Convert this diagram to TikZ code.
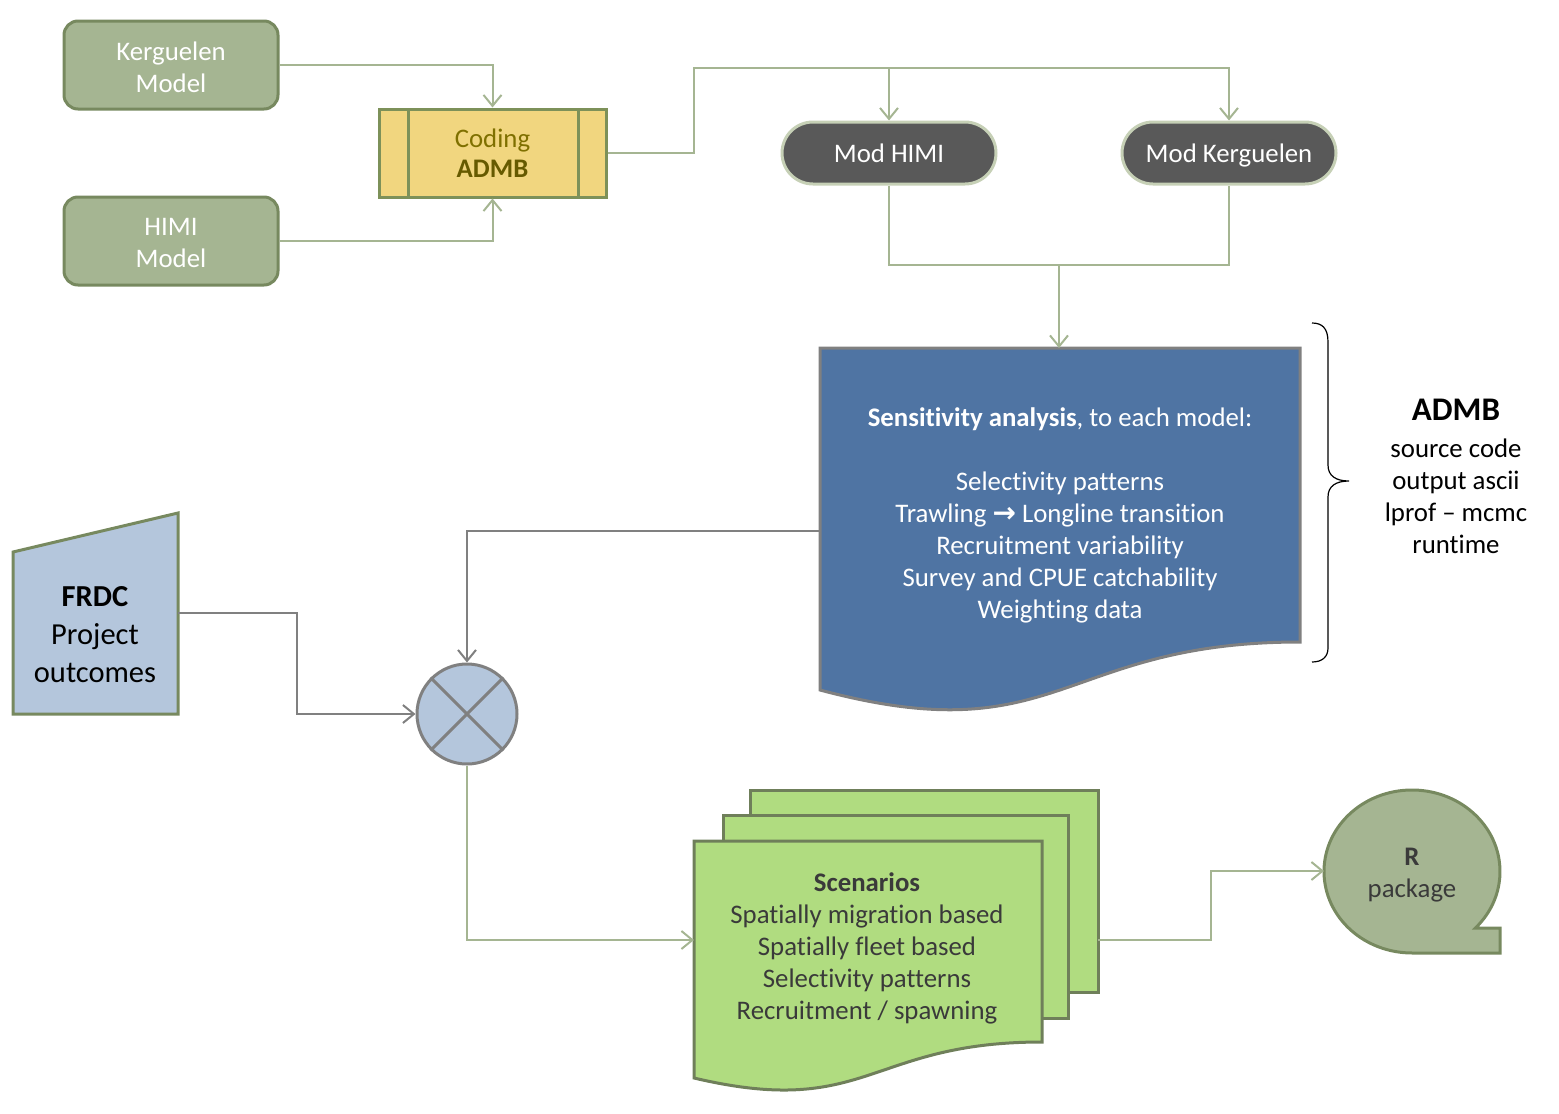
\documentclass[tikz,border=0pt]{standalone}
\usepackage{fontspec}
\setmainfont{Carlito}[Ligatures={NoCommon}]
\newfontfamily\symf{DejaVu Sans}
\usetikzlibrary{arrows.meta,calc}
\definecolor{boxgreen}{HTML}{A5B592}
\definecolor{boxgreenline}{HTML}{77895F}
\definecolor{conngreen}{HTML}{A5B592}
\definecolor{connGray}{HTML}{808080}
\definecolor{codefill}{HTML}{F1D67F}
\definecolor{codeline}{HTML}{7D9159}
\definecolor{codetext}{HTML}{7F7000}
\definecolor{codebold}{HTML}{665A00}
\definecolor{modfill}{HTML}{595959}
\definecolor{modline}{HTML}{C6D0B6}
\definecolor{sensfill}{HTML}{4F74A3}
\definecolor{sensline}{HTML}{808080}
\definecolor{lightblue}{HTML}{B4C6DC}
\definecolor{scenfill}{HTML}{B0DC80}
\definecolor{scenline}{HTML}{6F7F5A}
\definecolor{darktext}{HTML}{3A3A3A}
\tikzset{
  txt/.style={font=\fontsize{26.8}{32}\selectfont, align=center, inner sep=0pt},
  greenbox/.style={draw=boxgreenline, fill=boxgreen, line width=3pt, rounded corners=14pt,
    minimum width=214pt, minimum height=88pt, inner sep=0pt},
  modbox/.style={draw=modline, fill=modfill, line width=3pt, rounded corners=31pt,
    minimum width=214pt, minimum height=62pt, txt, text=white, text height=19pt, text depth=1pt},
  gconn/.style={draw=conngreen, line width=2pt},
  kconn/.style={draw=connGray, line width=2pt},
  tip/.style={-{Straight Barb[length=11pt,width=18pt,line width=2pt]}},
}
\begin{document}
\begin{tikzpicture}[x=1pt,y=1pt]
\useasboundingbox (0,0) rectangle (1559,-1114);

% --- top-left models
\node[greenbox] (kerg) at (171,-65) {};
\node[greenbox] (himi) at (171,-241) {};
\node[txt, text=white] (kergtxt) at (171,-67) {Kerguelen\\Model};
\node[txt, text=white] (himitxt) at (171,-243) {HIMI\\Model};

% --- coding ADMB (predefined process)
\node[draw=codeline, fill=codefill, line width=3pt, minimum width=227pt, minimum height=88pt,
      inner sep=0pt] (coding) at (492.5,-153) {};
\draw[codeline, line width=3pt] (408,-109) -- (408,-197) (578,-109) -- (578,-197);
\node[txt, font=\fontsize{26.8}{30}\selectfont, text=codetext] (codingtxt) at (492.5,-153)
  {Coding\\{\bfseries\color{codebold}ADMB}};

% --- mod boxes
\node[modbox] (modh) at (889,-153) {Mod HIMI};
\node[modbox] (modk) at (1229,-153) {Mod Kerguelen};

% --- sensitivity document
\draw[fill=sensfill, draw=sensline, line width=3pt]
  (820,-348) -- (1300,-348) -- (1300,-642)
  .. controls (1060,-642) and (1060,-754) .. (820,-690) -- cycle;
\coordinate (senstop) at (1059,-348);
\coordinate (sensL) at (820,-531);
\node[txt, text=white] (senstxt) at (1060,-515)
  {\textbf{Sensitivity analysis}, to each model:\\ \\
   Selectivity patterns\\
   Trawling {\symf\bfseries\fontsize{28}{32}\selectfont →} Longline transition\\
   Recruitment variability\\
   Survey and CPUE catchability\\
   Weighting data};

% --- brace
\draw[black, line width=1.2pt]
  (1312,-323) .. controls (1322,-323) and (1328,-328) .. (1328,-342)
  -- (1328,-465) .. controls (1328,-476) and (1336,-481) .. (1349,-481)
  .. controls (1336,-481) and (1328,-486) .. (1328,-497)
  -- (1328,-648) .. controls (1328,-657) and (1322,-662) .. (1312,-662);
\node[txt, font=\fontsize{33}{38}\selectfont\bfseries] (admbtitle) at (1456,-410) {ADMB};
\node[txt] (admblist) at (1456,-496) {source code\\output ascii\\lprof – mcmc\\runtime};

% --- FRDC manual input
\draw[fill=lightblue, draw=boxgreenline, line width=3pt]
  (13,-552) -- (178,-513) -- (178,-714) -- (13,-714) -- cycle;
\coordinate (frdcR) at (178,-613);
\coordinate (frdcBend) at (297,-613);
\node[txt, font=\fontsize{30.5}{38}\selectfont] (frdctxt) at (95,-635) {\textbf{FRDC}\\Project\\outcomes};

% --- summing junction
\node[circle, draw=connGray, fill=lightblue, line width=3pt, minimum size=100pt, inner sep=0pt] (junc) at (467,-714) {};
\draw[connGray, line width=3pt] (junc.north east) -- (junc.south west) (junc.north west) -- (junc.south east);

% --- scenarios multidocument
\draw[fill=scenfill, draw=scenline, line width=3pt] (750,-790) rectangle (1098,-992);
\draw[fill=scenfill, draw=scenline, line width=3pt] (723,-815) rectangle (1068,-1018);
\draw[fill=scenfill, draw=scenline, line width=3pt]
  (694,-841) -- (1042,-841) -- (1042,-1042)
  .. controls (868,-1042) and (868,-1119) .. (694,-1078) -- cycle;
\coordinate (scenL) at (694,-940);
\coordinate (scenR) at (1098,-940);
\coordinate (scenBend) at (1211,-940);
\node[txt, text=darktext] (scentxt) at (867,-948)
  {\textbf{Scenarios}\\Spatially migration based\\Spatially fleet based\\Selectivity patterns\\Recruitment / spawning};

% --- R package (tape)
\draw[fill=boxgreen, draw=boxgreenline, line width=3pt]
  (1475.4,-928) arc[start angle=-43.9, end angle=270, x radius=88, y radius=81.5]
  -- (1500,-953) -- (1500,-928) -- cycle;
\coordinate (rL) at (1324,-871);
\node[txt, text=darktext] (rtxt) at (1412,-875) {\textbf{R}\\package};

% --- connectors
\coordinate (split) at (694,-68);
\coordinate (join) at (1059,-265);
\draw[gconn, tip] (kerg.east) -| (coding.north);
\draw[gconn, tip] (himi.east) -| (coding.south);
\draw[gconn, tip] (coding.east) -| (split) -| (modk.north);
\draw[gconn, tip] (modh.north |- split) -- (modh.north);
\draw[gconn] (modh.south) |- (join) -| (modk.south);
\draw[gconn, tip] (join) -- (senstop);
\draw[kconn, tip] (sensL) -| (junc.north);
\draw[kconn, tip] (frdcR) -- (frdcBend) |- (junc.west);
\draw[gconn, tip] (junc.south) |- (scenL);
\draw[gconn, tip] (scenR) -- (scenBend) |- (rL);
\end{tikzpicture}
\end{document}
